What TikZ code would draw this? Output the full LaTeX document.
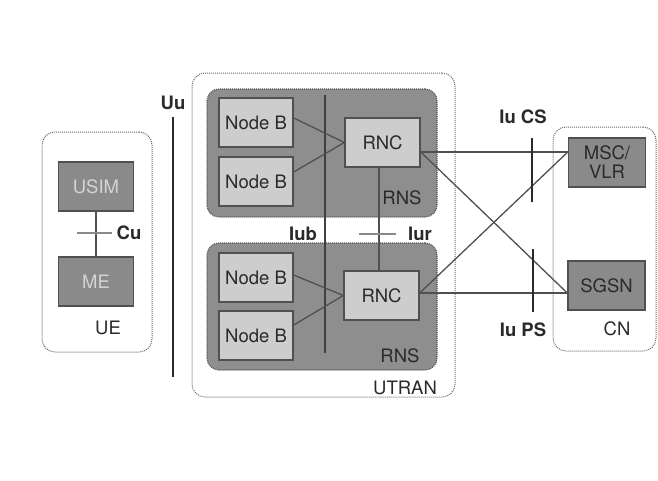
\documentclass[tikz,border=0pt]{standalone}
\usepackage{fontspec}
\setmainfont{TeX Gyre Heros}
\usetikzlibrary{calc}
\definecolor{rnsgrey}{HTML}{8E8E8E}
\definecolor{boxlight}{HTML}{CDCDCD}
\definecolor{boxdark}{HTML}{8A8A8A}
\definecolor{edge}{HTML}{505050}
\definecolor{ink}{HTML}{2A2A2A}
\definecolor{dotline}{HTML}{6E6E6E}
\begin{document}
\begin{tikzpicture}[x=1pt,y=-1pt,
  every node/.style={font=\fontsize{18.5}{20}\selectfont, text=ink, inner sep=0pt},
  container/.style={draw=dotline, line width=1pt, dash pattern=on 1pt off 1pt,
                    rounded corners=13pt, fill=white},
  rnsarea/.style={draw=edge, line width=1.2pt, dash pattern=on 1pt off 1pt,
                  rounded corners=12pt, fill=rnsgrey},
  lightbox/.style={draw=edge, line width=1.4pt, fill=boxlight,
                   minimum width=74pt, minimum height=49pt},
  darkbox/.style={draw=edge, line width=1.4pt, fill=boxdark,
                  minimum width=75pt, minimum height=49pt},
  link/.style={draw=edge, line width=1.3pt},
  iface/.style={draw=ink, line width=2pt},
  tick/.style={draw=boxdark, line width=2pt},
  tag/.style={font=\fontsize{18.5}{20}\selectfont\bfseries},
]
\useasboundingbox (0,0) rectangle (658,480);
\fill[white] (0,0) rectangle (658,480);

% domains
\node[container, minimum width=110pt, minimum height=220pt] (ue) at (97,242) {};
\node[container, minimum width=263pt, minimum height=324pt] (utran) at (323.5,235) {};
\node[container, minimum width=103pt, minimum height=224pt] (cn) at (604.5,239) {};

% radio network subsystems
\node[rnsarea, minimum width=230pt, minimum height=128pt] (rnsA) at (322,153) {};
\node[rnsarea, minimum width=230pt, minimum height=127pt] (rnsB) at (322,306.5) {};

% user equipment
\node[darkbox] (usim) at (96,186.5) {\color{boxlight!85!white}USIM};
\node[darkbox] (me) at (96,281.5) {\color{boxlight!85!white}ME};
\draw[link] (usim.south) -- (me.north);
\coordinate (cuL) at (77,233);
\coordinate (cuR) at (112,233);
\draw[tick, line width=1.6pt] (cuL) -- (cuR);
\node[tag] (cu) at (129,233) {Cu};
\node (uelbl) at (108,328) {UE};

% Uu interface
\coordinate (uuT) at (173,117);
\coordinate (uuB) at (173,377);
\draw[iface] (uuT) -- (uuB);
\node[tag] (uu) at (173,103) {Uu};

% Node Bs and RNCs
\node[lightbox] (nb1) at (256,122.5) {Node B};
\node[lightbox] (nb2) at (256,181.5) {Node B};
\node[lightbox] (nb3) at (256,277.5) {Node B};
\node[lightbox] (nb4) at (256,335.5) {Node B};
\node[lightbox, minimum width=75pt] (rncA) at (382.5,142.5) {RNC};
\node[lightbox, minimum width=75pt] (rncB) at (381.5,295.5) {RNC};

% Iub interface
\coordinate (iubT) at (325,95);
\coordinate (iubB) at (325,353);
\draw[link, draw=ink!90] (iubT) -- (iubB);
\node[tag] (iub) at (303,234) {Iub};

\draw[link] ([yshift=4.5pt]nb1.east) -- (rncA.west);
\draw[link] ([yshift=9.5pt]nb2.east) -- (rncA.west);
\draw[link] ([yshift=2.5pt]nb3.east) -- (rncB.west);
\draw[link] ([yshift=10.5pt]nb4.east) -- (rncB.west);

% Iur interface
\draw[link] ([xshift=-3.5pt]rncA.south) -- ([xshift=-2.5pt]rncB.north);
\coordinate (iurL) at (359,234);
\coordinate (iurR) at (396,234);
\draw[tick, line width=1.6pt] (iurL) -- (iurR);
\node[tag] (iur) at (420,234) {Iur};

\node (rnsAl) at (402,198) {RNS};
\node (rnsBl) at (400,356) {RNS};
\node (utranl) at (405,388) {UTRAN};

% core network
\node[darkbox, minimum width=77pt, align=center, font=\fontsize{18.5}{19}\selectfont] (msc) at (607,162.5) {MSC/\\VLR};
\node[darkbox, minimum width=77pt] (sgsn) at (606.5,285.5) {SGSN};
\node (cnl) at (617,329) {CN};

\draw[link] ([yshift=-9.5pt]rncA.east) -- ([yshift=10.5pt]msc.west);
\draw[link] ([yshift=-9.5pt]rncA.east) -- ([yshift=-7.5pt]sgsn.west);
\draw[link] ([yshift=2.5pt]rncB.east) -- ([yshift=10.5pt]msc.west);
\draw[link] ([yshift=2.5pt]rncB.east) -- ([yshift=-7.5pt]sgsn.west);

% Iu interfaces
\coordinate (csT) at (532,138);
\coordinate (csB) at (532,202);
\draw[iface] (csT) -- (csB);
\node[tag] (iucs) at (523,117) {Iu CS};
\coordinate (psT) at (533,249);
\coordinate (psB) at (533,312);
\draw[iface] (psT) -- (psB);
\node[tag] (iups) at (523,330) {Iu PS};
\end{tikzpicture}
\end{document}
